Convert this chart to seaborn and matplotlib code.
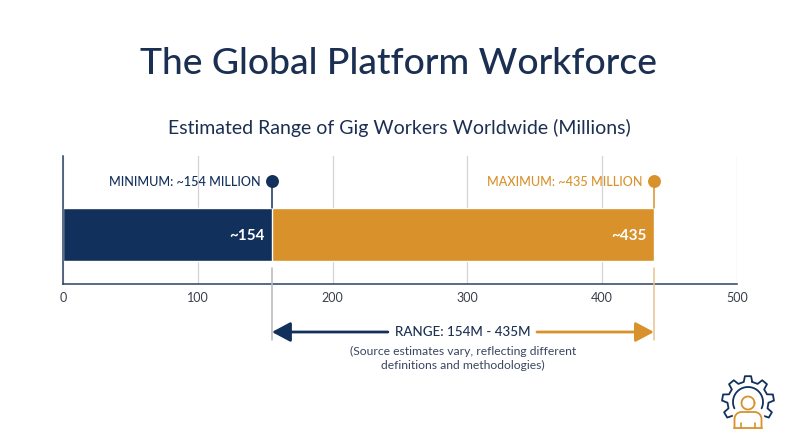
import numpy as np
import pandas as pd
import matplotlib
matplotlib.use('Agg')
import matplotlib.pyplot as plt
import seaborn as sns

# -----------------------------
# Data
# -----------------------------

series_names = ['Maximum', 'Minimum']
# where the bar ends sit against the axis
bar_ends = [438.4, 155]
bar_labels = ['~435', '~154']
marker_labels = ['MAXIMUM: ~435 MILLION', 'MINIMUM: ~154 MILLION']
axis_ticks = [0, 100, 200, 300, 400, 500]

NAVY = '#12305c'
ORANGE = '#d8912b'
TEXT = '#1b2f52'

sns.set_theme(style='white')
plt.rcParams['font.family'] = ['Lato', 'DejaVu Sans']

df = pd.DataFrame({'series': series_names, 'end': bar_ends, 'row': ['all', 'all']})

fig = plt.figure(figsize=(8, 4.47), dpi=100)
ax = fig.add_axes([63 / 800, 1 - 284 / 447, 674 / 800, 128 / 447])

# -----------------------------
# Bars
# -----------------------------

sns.barplot(
    data=df, x='end', y='row', hue='series', dodge=False,
    palette={'Maximum': ORANGE, 'Minimum': NAVY},
    hue_order=series_names, width=0.8, legend=False, ax=ax, zorder=3,
    saturation=1
)

ax.set_xlim(0, 500)
ax.set_ylim(49.5 / 66.25, -78.5 / 66.25)
ax.set_xlabel('')
ax.set_ylabel('')
ax.set_yticks([])
ax.set_xticks(axis_ticks)
ax.tick_params(axis='x', length=0, pad=5.5, labelsize=9, labelcolor='#3a3f4a')
ax.grid(axis='x', color='#d3d4d6', lw=0.9)
ax.set_axisbelow(True)
sns.despine(ax=ax, top=True, right=True)
for side in ['left', 'bottom']:
    ax.spines[side].set_color('#2c4063')
    ax.spines[side].set_linewidth(1.1)
    ax.spines[side].set_zorder(4)


# figure pixel row to the y units of the axes
def row_y(px):
    return (px - 234.5) / 66.25


# -----------------------------
# Markers and connectors
# -----------------------------

for end, lab, mark, col, below in zip(
    bar_ends, bar_labels, marker_labels, [ORANGE, NAVY], ['#e8c48f', '#b9b9b9']
):
    ax.plot([end, end], [row_y(181), row_y(208)], color=col, lw=1.1, zorder=5)
    ax.plot([end], [row_y(181)], 'o', color=col, ms=9.3, mew=0, zorder=6)
    ax.plot([end, end], [row_y(268), row_y(340)], color=below, lw=1.1,
            clip_on=False, zorder=5)
    ax.annotate(lab, (end, 0), xytext=(-5.5, -1), textcoords='offset points',
                ha='right', va='center', color='white', fontsize=11,
                fontweight='bold', zorder=7)
    ax.annotate(mark, (end, row_y(181)), xytext=(-8, -0.8), textcoords='offset points',
                ha='right', va='center', color=col, fontsize=9.1,
                fontweight='medium', zorder=7)

# -----------------------------
# Range arrows
# -----------------------------

arrow_y = row_y(332)
arrow_style = dict(arrowstyle='-|>,head_length=0.75,head_width=0.4', lw=2,
                   shrinkA=0, shrinkB=0, mutation_scale=15)
ax.annotate('', xy=(bar_ends[1], arrow_y), xytext=(241, arrow_y), annotation_clip=False,
            arrowprops=dict(color=NAVY, **arrow_style))
ax.annotate('', xy=(bar_ends[0], arrow_y), xytext=(351.6, arrow_y), annotation_clip=False,
            arrowprops=dict(color=ORANGE, **arrow_style))

# -----------------------------
# Text and icon layer, in pixels
# -----------------------------

top = fig.add_axes([0, 0, 1, 1], zorder=10)
top.set_xlim(0, 800)
top.set_ylim(447, 0)
top.axis('off')
top.patch.set_alpha(0)

top.text(398, 64, 'The Global Platform Workforce', ha='center', va='center',
         fontsize=26.8, color=TEXT, fontweight='medium')
top.text(399.5, 128, 'Estimated Range of Gig Workers Worldwide (Millions)', ha='center',
         va='center', fontsize=14, color=TEXT)
top.text(463, 332, 'RANGE: 154M - 435M', ha='center', va='center', fontsize=9.6,
         color=TEXT, fontweight='medium')
top.text(463, 351, '(Source estimates vary, reflecting different', ha='center',
         va='center', fontsize=8.7, color='#3a4560')
top.text(463, 365, 'definitions and methodologies)', ha='center', va='center',
         fontsize=8.7, color='#3a4560')

# gear outline
cx, cy = 748, 402
teeth = 9
step = 2 * np.pi / teeth
gear_a = []
gear_r = []
for i in range(teeth):
    base = np.pi / 2 + i * step
    gear_a += [base - 0.30 * step, base - 0.17 * step, base + 0.17 * step, base + 0.30 * step]
    gear_r += [20.5, 26, 26, 20.5]
gear_a = np.array(gear_a + gear_a[:1])
gear_r = np.array(gear_r + gear_r[:1])
top.plot(cx + gear_r * np.cos(gear_a), cy - gear_r * np.sin(gear_a),
         color=NAVY, lw=1.3, solid_joinstyle='round')

t = np.radians(np.linspace(-25, 205, 60))
top.plot(cx + 15 * np.cos(t), cy - 15 * np.sin(t), color=NAVY, lw=1.3)

# white patch where the person stands over the gear
top.fill([733, 763, 763, 733], [413, 413, 432, 432], color='white', zorder=2)

t = np.linspace(0, 2 * np.pi, 60)
top.plot(cx + 6.5 * np.cos(t), 403 + 6.5 * np.sin(t), color=ORANGE, lw=1.3, zorder=3)
t = np.radians(np.linspace(180, 90, 20))
bx = np.r_[734.5, 734.5 + 7 * (1 + np.cos(t)), 761.5 - 7 * (1 + np.cos(t[::-1])), 761.5]
by = np.r_[428, 419 - 7 * np.sin(t), 419 - 7 * np.sin(t[::-1]), 428]
top.plot(bx, by, color=ORANGE, lw=1.3, zorder=3)
top.plot([734, 762], [428, 428], color=ORANGE, lw=1.3, zorder=3)
top.plot([741, 741], [423, 428], color=ORANGE, lw=1.2, zorder=3)
top.plot([755, 755], [423, 428], color=ORANGE, lw=1.2, zorder=3)

fig.savefig('out.png', dpi=100)
